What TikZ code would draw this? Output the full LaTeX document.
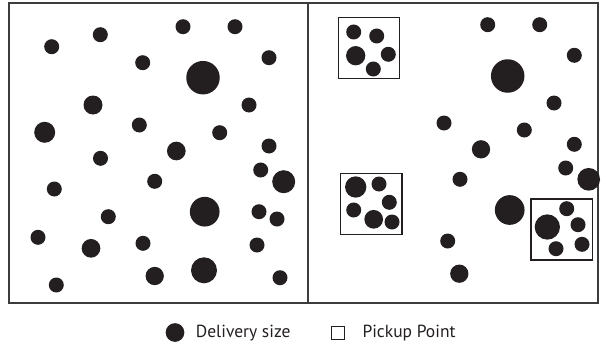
\documentclass[tikz,border=0pt]{standalone}
\usepackage{fontspec}
\setmainfont{PT Sans}
\definecolor{ink}{HTML}{231F20}
\definecolor{framec}{HTML}{3C3C3C}
\begin{document}
\begin{tikzpicture}[x=1pt,y=-1pt,
  blob/.style={circle,fill=ink,inner sep=0pt,minimum size=#1},
  blob/.default=15pt,
  pbox/.style={draw=ink,line width=1.2pt},
  lbl/.style={anchor=base west,inner sep=0pt,text=ink,font=\fontsize{17.5}{20}\selectfont}]
\useasboundingbox (0,0) rectangle (601,345);
% frame
\draw[draw=framec,line width=2pt] (9,3) rectangle (598,303);
\draw[draw=framec,line width=2pt] (308,3) -- (308,303);
% left panel
\node[blob] (l1) at (51.7,46.7) {};
\node[blob] (l2) at (100.3,34.7) {};
\node[blob] (l3) at (183,26.7) {};
\node[blob] (l4) at (235,26.7) {};
\node[blob] (l5) at (142.7,62.7) {};
\node[blob=33.5pt] (l6) at (203,77.7) {};
\node[blob] (l7) at (269,57.7) {};
\node[blob=19pt] (l8) at (93,105) {};
\node[blob] (l9) at (249,105) {};
\node[blob=21pt] (l10) at (44.7,132.3) {};
\node[blob] (l11) at (139.3,125) {};
\node[blob] (l12) at (219.7,132.7) {};
\node[blob] (l13) at (269,146) {};
\node[blob=18.7pt] (l14) at (176.3,151) {};
\node[blob] (l15) at (100.5,158.3) {};
\node[blob] (l16) at (260.7,170) {};
\node[blob=23pt] (l17) at (283.7,181.7) {};
\node[blob] (l18) at (54.3,189) {};
\node[blob] (l19) at (154.7,181.3) {};
\node[blob] (l20) at (108.3,216.7) {};
\node[blob=29.7pt] (l21) at (204.7,211.7) {};
\node[blob] (l22) at (259,211.7) {};
\node[blob] (l23) at (277,219) {};
\node[blob] (l24) at (38,237.3) {};
\node[blob=18.7pt] (l25) at (91,248.3) {};
\node[blob] (l26) at (143,243.3) {};
\node[blob] (l27) at (257,245) {};
\node[blob=26pt] (l28) at (204,270.3) {};
\node[blob=18.3pt] (l29) at (154.7,276) {};
\node[blob] (l30) at (56.3,285) {};
\node[blob] (l31) at (280,277.7) {};
% right panel: pickup boxes
\draw[pbox] (338.3,17.3) rectangle (399.7,78.7);
\node[blob] (a1) at (353.7,32) {};
\node[blob] (a2) at (376.7,36) {};
\node[blob=19.3pt] (a3) at (355.7,55.7) {};
\node[blob] (a4) at (388.3,54.3) {};
\node[blob] (a5) at (373.3,69) {};
\draw[pbox] (340.7,173.3) rectangle (402,234.7);
\node[blob=21.3pt] (b1) at (355.7,187) {};
\node[blob] (b2) at (379,184) {};
\node[blob] (b3) at (389.3,202.3) {};
\node[blob] (b4) at (353.7,210) {};
\node[blob=18.7pt] (b5) at (373.7,219.3) {};
\node[blob] (b6) at (392,222) {};
\draw[pbox] (531,199) rectangle (592.7,260);
\node[blob] (c1) at (566.7,208.7) {};
\node[blob=25.3pt] (c2) at (547.3,227) {};
\node[blob] (c3) at (578,224.7) {};
\node[blob] (c4) at (556,248.7) {};
\node[blob] (c5) at (582,244.3) {};
% right panel: loose deliveries
\node[blob] (r1) at (487.7,24.7) {};
\node[blob] (r2) at (539.7,24.7) {};
\node[blob] (r3) at (574.3,55.3) {};
\node[blob=33.5pt] (r4) at (507.7,76) {};
\node[blob] (r5) at (554,103) {};
\node[blob] (r6) at (444,123) {};
\node[blob] (r7) at (524.3,130) {};
\node[blob=18.3pt] (r8) at (481,149.3) {};
\node[blob] (r9) at (574.3,144.3) {};
\node[blob] (r10) at (460,179.3) {};
\node[blob] (r11) at (565.7,168) {};
\node[blob=22.7pt] (r12) at (588.7,179.3) {};
\node[blob=29.7pt] (r13) at (509.7,210) {};
\node[blob] (r14) at (447.7,241) {};
\node[blob=18.3pt] (r15) at (459.3,273.7) {};
% legend
\node[blob=18.7pt] (kdot) at (175,332.5) {};
\node[lbl] (ktxt1) at (195.7,337.5) {Delivery size};
\node[draw=ink,line width=1.1pt,inner sep=0pt,minimum size=13pt] (kbox) at (337.8,333) {};
\node[lbl] (ktxt2) at (362.3,337.5) {Pickup Point};
\end{tikzpicture}
\end{document}
